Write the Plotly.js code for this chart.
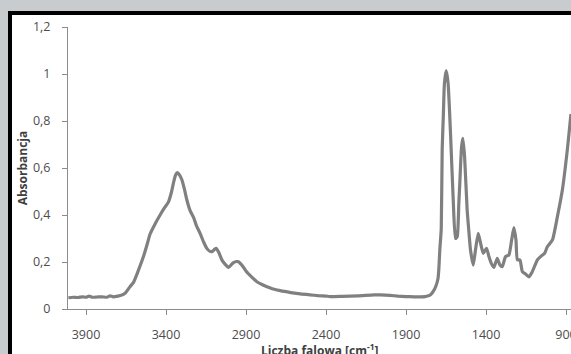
<!DOCTYPE html>
<html>
<head>
<meta charset="utf-8">
<script src="https://cdn.plot.ly/plotly-3.0.1.min.js"></script>
<style>
html,body{margin:0;padding:0;background:#c9ccce;}
#chart{width:571px;height:354px;}
</style>
</head>
<body>
<div id="chart"></div>
<script>
// Wavenumber (cm^-1) and absorbance
const wavenumber = [4010,3980,3950,3920,3900,3880,3860,3830,3800,3770,3750,3730,3700,3680,3656,3625,3604,3575,3541,3520,3499,3470,3437,3410,3385,3365,3354,3340,3329,3315,3301,3285,3270,3250,3228,3210,3187,3165,3145,3125,3113,3095,3086,3070,3051,3030,3009,2990,2978,2960,2947,2930,2916,2900,2885,2870,2850,2832,2800,2769,2730,2686,2620,2561,2500,2450,2400,2373,2300,2200,2100,2060,2000,1950,1900,1850,1810,1780,1766,1745,1727,1712,1700,1695,1689,1680,1674,1667,1660,1649,1637,1622,1605,1591,1580,1570,1564,1553,1545,1534,1518,1506,1497,1480,1466,1449,1434,1417,1397,1382,1367,1351,1330,1313,1299,1278,1257,1240,1226,1213,1204,1188,1173,1153,1132,1111,1079,1059,1034,1017,985,954,923,892,871,869];
const absorbance = [0.048,0.05,0.049,0.052,0.05,0.055,0.05,0.051,0.052,0.05,0.056,0.052,0.055,0.058,0.067,0.095,0.112,0.16,0.223,0.27,0.32,0.36,0.40,0.43,0.455,0.50,0.535,0.57,0.58,0.57,0.55,0.51,0.465,0.42,0.39,0.355,0.322,0.285,0.258,0.245,0.244,0.255,0.258,0.24,0.209,0.19,0.177,0.19,0.197,0.202,0.201,0.19,0.178,0.162,0.15,0.14,0.127,0.116,0.104,0.095,0.085,0.078,0.07,0.064,0.06,0.057,0.055,0.053,0.054,0.056,0.06,0.06,0.058,0.055,0.053,0.052,0.052,0.053,0.055,0.062,0.078,0.1,0.13,0.17,0.25,0.34,0.68,0.82,0.96,1.014,0.96,0.748,0.464,0.30,0.308,0.45,0.535,0.69,0.726,0.648,0.421,0.32,0.251,0.187,0.251,0.322,0.28,0.237,0.258,0.223,0.194,0.177,0.216,0.187,0.18,0.223,0.23,0.294,0.346,0.294,0.209,0.209,0.159,0.149,0.137,0.159,0.209,0.223,0.237,0.265,0.294,0.393,0.506,0.677,0.818,0.83];
const xTickVals = [3900,3400,2900,2400,1900,1400,900];
const yTickVals = [0,0.2,0.4,0.6,0.8,1,1.2];
const yTickText = ["0","0,2","0,4","0,6","0,8","1","1,2"];
const xTitle = "Liczba falowa [cm<sup>-1</sup>]";
const yTitle = "Absorbancja";

const trace = {
  x: wavenumber, y: absorbance, type: 'scatter', mode: 'lines',
  line: {color: '#808080', width: 3.2, shape: 'spline', smoothing: 0.5},
  hoverinfo: 'skip'
};

const titleFont = {family: 'Open Sans', size: 12, color: '#404040', weight: 'bold'};

const axisCommon = {
  showgrid: false, zeroline: false, showline: true,
  linecolor: '#8c8c8c', linewidth: 1,
  ticks: 'outside', ticklen: 5, tickcolor: '#8c8c8c', tickwidth: 1,
  tickfont: {family: 'Open Sans', size: 12.5, color: '#4d4d4d'},
  automargin: false, fixedrange: true, ticklabeloverflow: 'allow'
};

const layout = {
  width: 571, height: 354,
  margin: {l: 68, r: 0, t: 27, b: 45, pad: 0},
  paper_bgcolor: '#c9ccce',
  plot_bgcolor: 'rgba(0,0,0,0)',
  showlegend: false,
  xaxis: Object.assign({}, axisCommon, {
    range: [4012.5, 869],
    tickmode: 'array', tickvals: xTickVals,
    ticklabelstandoff: 9
  }),
  yaxis: Object.assign({}, axisCommon, {
    range: [0, 1.2],
    tickmode: 'array', tickvals: yTickVals, ticktext: yTickText,
    ticklabelstandoff: 9,
    title: {text: yTitle, font: titleFont}
  }),
  annotations: [{
    text: xTitle, xref: 'paper', yref: 'paper',
    x: 0.5, y: -0.147, xanchor: 'center', yanchor: 'middle',
    showarrow: false, font: titleFont
  }],
  shapes: [{
    type: 'rect', xref: 'paper', yref: 'paper', layer: 'below',
    x0: -0.1153, x1: 1.3, y0: -0.6, y1: 1.0496,
    fillcolor: '#ffffff', line: {color: '#000000', width: 4}
  }]
};

Plotly.newPlot('chart', [trace], layout, {staticPlot: true, displayModeBar: false});
</script>
</body>
</html>
